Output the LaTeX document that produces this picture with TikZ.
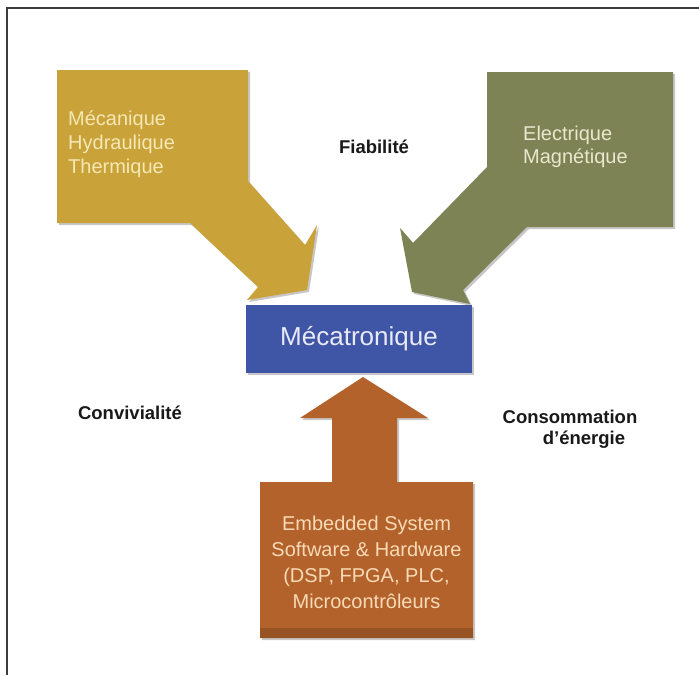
\documentclass[tikz,border=0pt]{standalone}
\usepackage{fontspec}
\setmainfont{Liberation Sans}
\begin{document}
\begin{tikzpicture}[x=1pt,y=-1pt,
  goldfill/.style={fill={rgb,255:red,201;green,162;blue,58}},
  greenfill/.style={fill={rgb,255:red,126;green,131;blue,86}},
  brownfill/.style={fill={rgb,255:red,178;green,98;blue,42}},
  shadowfill/.style={fill=black, opacity=0.22},
  boxtext/.style={font=\fontsize{20}{24}\selectfont, inner sep=0pt},
  lbl/.style={font=\bfseries\fontsize{18.5}{22}\selectfont, text={rgb,255:red,25;green,25;blue,25}, inner sep=0pt}]
\useasboundingbox (0,0) rectangle (699,675);
\fill[white] (0,0) rectangle (699,675);
% frame
\draw[line width=1.5pt, draw={rgb,255:red,60;green,60;blue,60}] (7,675) -- (7,8) -- (699,8);

% gold arrow
\fill[shadowfill] (59,72) -- (250,72) -- (250,183) -- (307,247) -- (319,227) -- (309,292) -- (249,302) -- (260,289) -- (192,225) -- (59,225) -- cycle;
\fill[goldfill] (57,70) -- (248,70) -- (248,181) -- (305,245) -- (317,225) -- (307,290) -- (247,300) -- (258,287) -- (190,223) -- (57,223) -- cycle;

% green arrow
\fill[shadowfill] (489,74) -- (675,74) -- (675,229) -- (529,229) -- (465,292) -- (472,306) -- (414,294) -- (402,230) -- (415,245) -- (489,169) -- cycle;
\fill[greenfill] (487,72) -- (673,72) -- (673,227) -- (527,227) -- (463,290) -- (470,304) -- (412,292) -- (400,228) -- (413,243) -- (487,167) -- cycle;

% brown arrow
\fill[shadowfill] (262,484) -- (334,484) -- (334,420) -- (302,420) -- (365,379) -- (430,420) -- (399,420) -- (399,484) -- (475,484) -- (475,640) -- (262,640) -- cycle;
\fill[brownfill] (260,482) -- (332,482) -- (332,418) -- (300,418) -- (363,377) -- (428,418) -- (397,418) -- (397,482) -- (473,482) -- (473,638) -- (260,638) -- cycle;
\fill[black, opacity=0.15] (260,628) rectangle (473,638);

% central box
\fill[shadowfill] (248,307) rectangle (474,375);
\node[fill={rgb,255:red,63;green,85;blue,165}, minimum width=226pt, minimum height=68pt, inner sep=0pt,
      text={rgb,255:red,232;green,234;blue,248}, font=\fontsize{26}{30}\selectfont] (meca) at (359,339) {Mécatronique};

% texts in arrows
\node[boxtext, anchor=west, align=left, text={rgb,255:red,245;green,232;blue,180}] (mech) at (68,144) {Mécanique\\Hydraulique\\Thermique};
\node[boxtext, anchor=west, align=left, font=\fontsize{20}{23}\selectfont, text={rgb,255:red,232;green,232;blue,205}] (elec) at (523,146.5) {Electrique\\Magnétique};
\node[boxtext, align=center, font=\fontsize{20}{26}\selectfont, text={rgb,255:red,248;green,218;blue,182}] (emb) at (366.5,562.5) {Embedded System\\Software \& Hardware\\(DSP, FPGA, PLC,\\Microcontrôleurs};

% labels
\node[lbl] (fiab) at (374,147) {Fiabilité};
\node[lbl] (conv) at (130,413) {Convivialité};
\node[lbl] (cons) at (570,417) {Consommation};
\node[lbl] (ener) at (584,440) {d'énergie};
\end{tikzpicture}
\end{document}
